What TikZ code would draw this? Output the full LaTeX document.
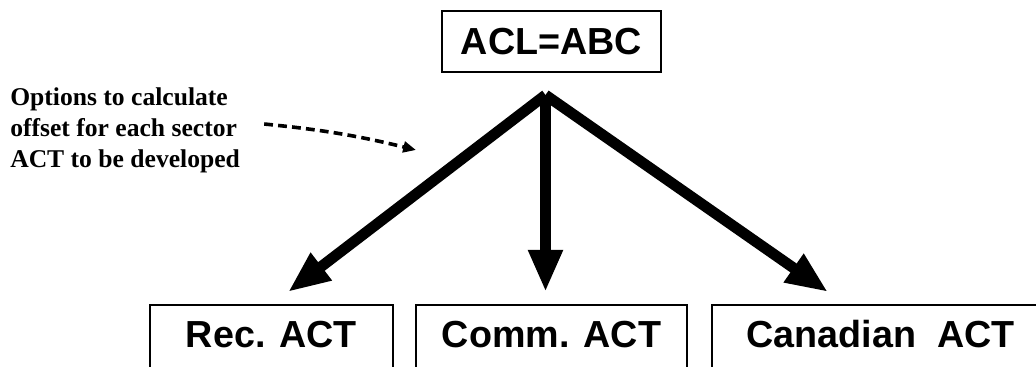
\documentclass[tikz,border=0pt]{standalone}
\usepackage{fontspec}
\setmainfont{Liberation Sans}
\newfontfamily\notefont{Liberation Serif}
\usetikzlibrary{arrows.meta, positioning}

\tikzset{
	actbox/.style={draw, line width=0.045cm, inner xsep=0pt, inner ysep=0.4cm, text height=0.675cm, anchor=north, font=\fontsize{26.8}{30}\selectfont\bfseries},
	fatarrow/.style={line width=0.27cm, -{Triangle[length=1.05cm, width=0.8cm]}},
	notearrow/.style={line width=0.09cm, dash pattern=on 0.22cm off 0.13cm, -{Triangle[length=0.32cm, width=0.27cm]}}
}

\begin{document}
\begin{tikzpicture}[x=0.025cm, y=-0.025cm]
				  \useasboundingbox (0,0) rectangle (1036,367);
				  \clip (0,0) rectangle (1036,367);
				  \node[actbox, inner ysep=0.425cm, text depth=0pt, minimum width=5.475cm] (acl) at (551.5,10) {ACL=ABC};
				  \node[actbox, text depth=1cm, minimum width=6.075cm] (rec) at (271.5,304) {Rec. ACT};
				  \node[actbox, text depth=1cm, minimum width=6.775cm] (comm) at (551.5,304) {Comm. ACT};
				  \node[actbox, text depth=1cm, minimum width=8.425cm] (canada) at (880.5,304) {Canadian\ \ ACT};
				  \node[font=\notefont\bfseries\fontsize{18.2}{22}\selectfont, align=left, inner sep=0pt, anchor=west] (note) at (10,130) {Options to calculate\\offset for each sector\\ACT to be developed};
				  \coordinate (apex) at (545.5,95);
				  \coordinate (recTip) at (288,292);
				  \coordinate (commTip) at (545.5,292);
				  \coordinate (canTip) at (828,292);
				  \coordinate (aim) at (416,150);
				  \draw[fatarrow] (apex) -- (recTip);
				  \draw[fatarrow] (apex) -- (commTip);
				  \draw[fatarrow] (apex) -- (canTip);
				  \draw[notearrow] ([xshift=0.6cm, yshift=0.15cm]note.east) to[bend left=4] (aim);
				\end{tikzpicture}
\end{document}
